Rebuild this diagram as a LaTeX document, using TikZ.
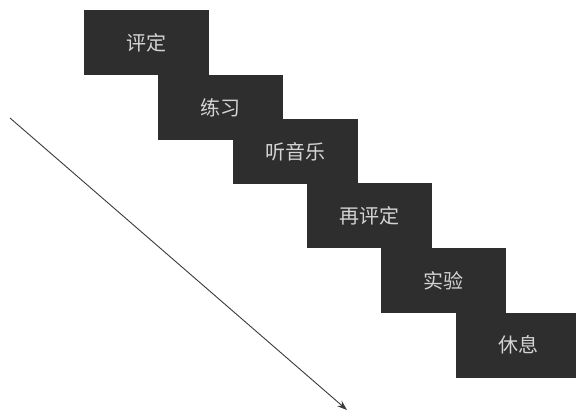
\documentclass[tikz,border=0pt]{standalone}
\usepackage{fontspec}
\newfontfamily\cjk{Noto Sans CJK SC}
\usetikzlibrary{arrows.meta}
\definecolor{boxfill}{HTML}{2E2E2E}
\definecolor{boxtext}{HTML}{D4D4D4}
\definecolor{arrowcol}{HTML}{3A3A3A}
\tikzset{
  stairbox/.style={rectangle, fill=boxfill, draw=none, minimum width=125pt, minimum height=65pt, inner sep=0pt, text=boxtext, font=\cjk\fontsize{20}{24}\selectfont},
  flowarrow/.style={draw=arrowcol, line width=0.9pt, -{Stealth[length=10pt,width=7pt]}}
}
\begin{document}
\begin{tikzpicture}[x=1pt,y=-1pt]
\useasboundingbox (0,0) rectangle (576,412);
\node[stairbox] (b1) at (146.5,43) {评定};
\node[stairbox] (b2) at (220.5,107.5) {练习};
\node[stairbox] (b3) at (295,151.5) {听音乐};
\node[stairbox] (b4) at (369.5,215.5) {再评定};
\node[stairbox] (b5) at (443.5,280.5) {实验};
\node[stairbox] (b6) at (518.5,345) {休息};
\coordinate (s) at (10,118);
\coordinate (e) at (347,410);
\draw[flowarrow] (s) -- (e);
\end{tikzpicture}
\end{document}
